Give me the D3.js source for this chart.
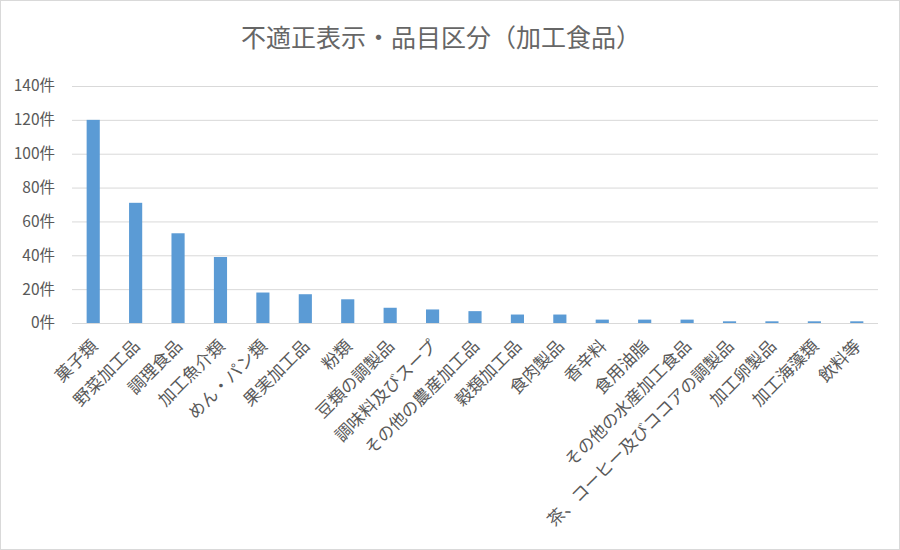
<!DOCTYPE html>
<html>
<head>
<meta charset="utf-8">
<script src="https://cdn.jsdelivr.net/npm/d3@7"></script>
<style>
  html, body { margin: 0; padding: 0; background: #fff; }
  svg { display: block; }
  text { font-family: "Noto Sans CJK JP", "Noto Sans", sans-serif; fill: #595959; }
</style>
</head>
<body>
<svg id="chart" width="900" height="550"></svg>
<script>
const title = "不適正表示・品目区分（加工食品）";
const categories = ["菓子類", "野菜加工品", "調理食品", "加工魚介類", "めん・パン類", "果実加工品", "粉類", "豆類の調製品", "調味料及びスープ", "その他の農産加工品", "穀類加工品", "食肉製品", "香辛料", "食用油脂", "その他の水産加工食品", "茶、コーヒー及びココアの調製品", "加工卵製品", "加工海藻類", "飲料等"];
const counts = [120, 71, 53, 39, 18, 17, 14, 9, 8, 7, 5, 5, 2, 2, 2, 1, 1, 1, 1];
const yTicks = [0, 20, 40, 60, 80, 100, 120, 140];
const yTickSuffix = "件";

const svg = d3.select("#chart");
const W = 900, H = 550;
const plot = { left: 72, right: 878, top: 86, bottom: 323 };

svg.append("rect").attr("x", 0.5).attr("y", 0.5).attr("width", W - 1).attr("height", H - 1)
  .attr("fill", "#fff").attr("stroke", "#d9d9d9");

const x = d3.scaleBand().domain(categories).range([plot.left, plot.right])
  .paddingInner(0.69).paddingOuter(0.345);
const y = d3.scaleLinear().domain([0, 140]).range([plot.bottom, plot.top]);

// title
svg.append("text").attr("x", 441).attr("y", 47).attr("text-anchor", "middle")
  .style("font-size", "25px").style("fill", "#666").text(title);

// gridlines + y labels
const yAxis = d3.axisLeft(y).tickValues(yTicks)
  .tickSize(-(plot.right - plot.left)).tickPadding(17)
  .tickFormat(d => d + yTickSuffix);
const gy = svg.append("g").attr("transform", `translate(${plot.left},0)`).call(yAxis);
gy.select(".domain").remove();
gy.selectAll(".tick line").attr("stroke", "#d9d9d9").attr("stroke-width", 1);
gy.selectAll(".tick text").style("font-size", "15.5px").style("font-family", "'Noto Sans CJK JP', sans-serif").style("fill", "#595959");

// bars
svg.append("g").selectAll("rect").data(categories).join("rect")
  .attr("x", d => x(d))
  .attr("width", x.bandwidth())
  .attr("y", (d, i) => y(counts[i]))
  .attr("height", (d, i) => y(0) - y(counts[i]))
  .attr("fill", "#5b9bd5");

// x labels
const xAxis = d3.axisBottom(x).tickSize(0).tickPadding(0);
const gx = svg.append("g").attr("transform", `translate(0,${plot.bottom})`).call(xAxis);
gx.select(".domain").remove();
gx.selectAll(".tick text")
  .style("font-size", "17px").style("font-family", "'Noto Sans CJK JP', sans-serif")
  .style("fill", "#595959")
  .attr("text-anchor", "end")
  .attr("y", 0).attr("dy", "0.35em")
  .attr("transform", "translate(1,20) rotate(-45)");
</script>
</body>
</html>
